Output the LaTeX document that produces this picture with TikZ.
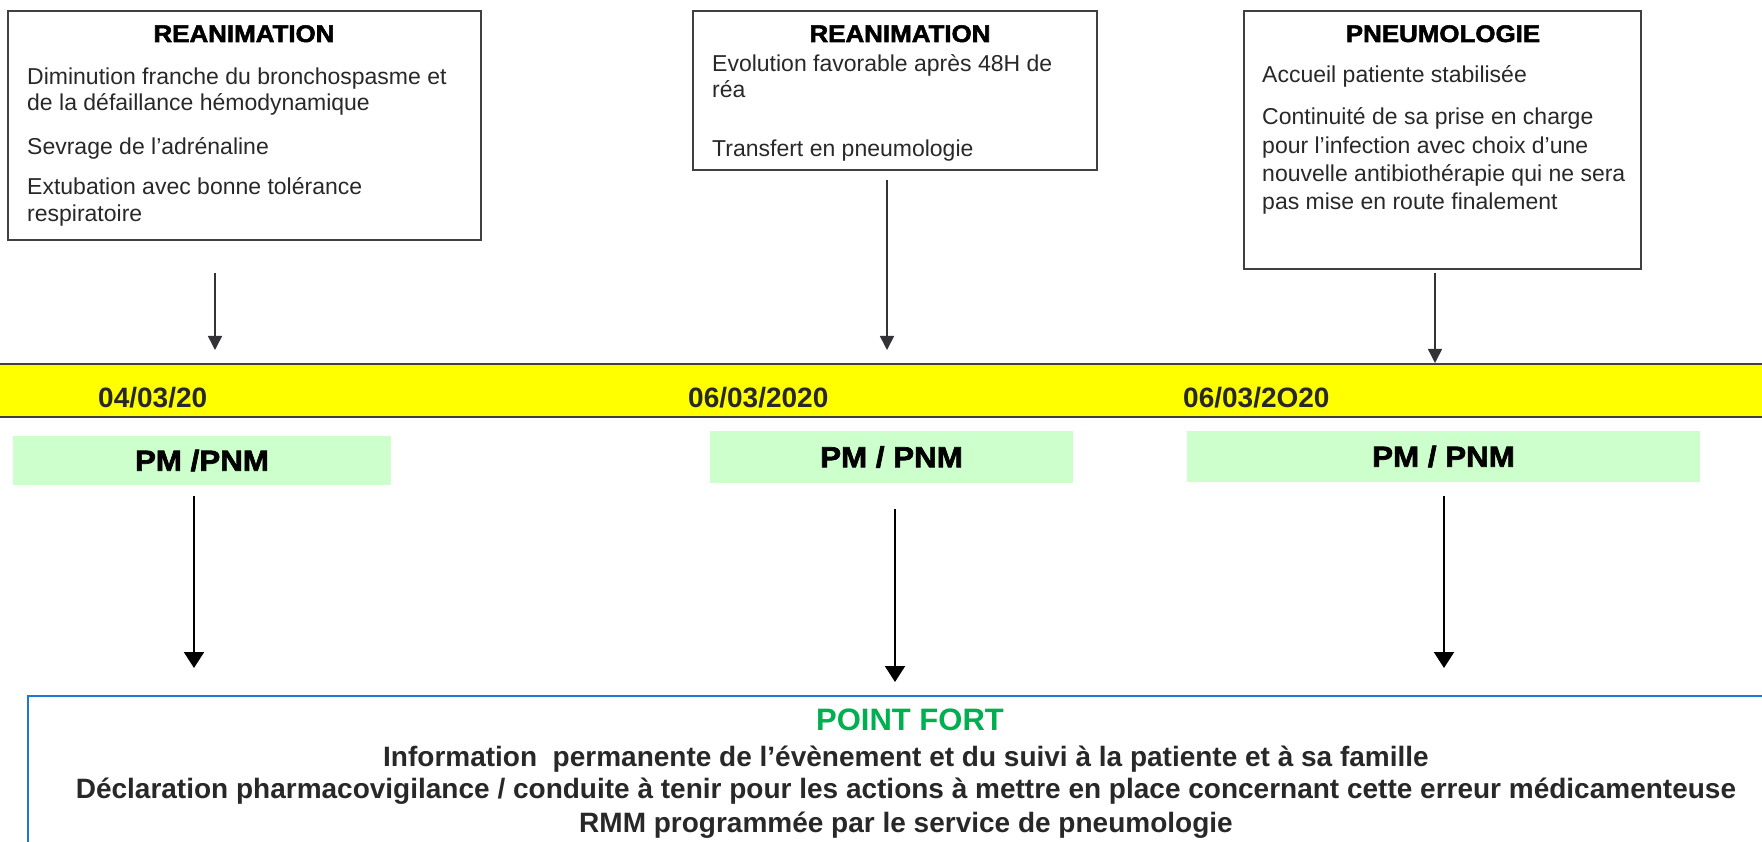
\documentclass[tikz,border=0pt]{standalone}
\usepackage{fontspec}
\setmainfont{Liberation Sans}
\newfontfamily\heavyfont{Liberation Sans}[FakeStretch=1.08, BoldFeatures={FakeBold=2.2}]
\usepackage{tikz}
\usetikzlibrary{arrows.meta, positioning}
\definecolor{tlyellow}{RGB}{255, 255, 0}
\definecolor{pmgreen}{RGB}{204, 255, 204}
\definecolor{fortgreen}{RGB}{0, 176, 80}
\definecolor{fortblue}{RGB}{30, 120, 210}
\definecolor{framegray}{RGB}{64, 64, 64}
\definecolor{linegray}{RGB}{50, 50, 55}
\definecolor{textgray}{RGB}{40, 40, 40}

\begin{document}
\begin{tikzpicture}[x=1pt, y=-1pt,
    eventbox/.style={draw=framegray, line width=1.4pt, inner sep=0pt},
    boxtitle/.style={font=\heavyfont\bfseries\fontsize{24}{28}\selectfont, inner sep=0pt, anchor=base},
    boxline/.style={font=\fontsize{23}{27}\selectfont, text=textgray, inner sep=0pt, anchor=base west},
    datelabel/.style={font=\bfseries\fontsize{28}{32}\selectfont, text=textgray, inner sep=0pt, anchor=base west},
    pmbox/.style={fill=pmgreen, inner sep=0pt, font=\heavyfont\bfseries\fontsize{29}{32}\selectfont},
    fortline/.style={font=\bfseries\fontsize{28}{32}\selectfont, text=textgray, inner sep=0pt, anchor=base},
    toparrow/.style={draw=linegray, line width=1.5pt, -{Triangle[length=14pt, width=14pt]}},
    downarrow/.style={draw=black, line width=2.2pt, -{Triangle[length=16pt, width=20pt]}},
  ]
  \useasboundingbox (0,0) rectangle (1762,842);

  \node[eventbox, minimum width=473, minimum height=229] (rea1) at (244.5,125.5) {};
  \node[boxtitle] (rea1-title) at (244,42) {REANIMATION};
  \foreach \yy/\txt [count=\i] in {85/Diminution franche du bronchospasme et,
      111/de la défaillance hémodynamique, 155/Sevrage de l’adrénaline,
      195/Extubation avec bonne tolérance, 222/respiratoire}
    \node[boxline] (rea1-\i) at (27,\yy) {\txt};

  \node[eventbox, minimum width=404, minimum height=159] (rea2) at (895,90.5) {};
  \node[boxtitle] (rea2-title) at (900,42) {REANIMATION};
  \foreach \yy/\txt [count=\i] in {72/Evolution favorable après 48H de,
      98/réa, 157/Transfert en pneumologie}
    \node[boxline] (rea2-\i) at (712,\yy) {\txt};

  \node[eventbox, minimum width=397, minimum height=258] (pneumo) at (1442.5,140) {};
  \node[boxtitle] (pneumo-title) at (1443,42) {PNEUMOLOGIE};
  \foreach \yy/\txt [count=\i] in {83/Accueil patiente stabilisée,
      125/Continuité de sa prise en charge, 154/pour l’infection avec choix d’une,
      182/nouvelle antibiothérapie qui ne sera, 210/pas mise en route finalement}
    \node[boxline] (pneumo-\i) at (1262,\yy) {\txt};

  \node[fill=tlyellow, minimum width=1762, minimum height=53, inner sep=0pt] (timeline) at (881,390.5) {};
  \draw[draw=framegray, line width=2pt] (timeline.north west) -- (timeline.north east);
  \draw[draw=framegray, line width=2pt] (timeline.south west) -- (timeline.south east);
  \node[datelabel] (date1) at (98,407) {04/03/20};
  \node[datelabel] (date2) at (688,407) {06/03/2020};
  \node[datelabel] (date3) at (1183,407) {06/03/2O20};

  \coordinate (s1) at (215,273);  \coordinate (e1) at (215,350);
  \coordinate (s2) at (887,180);  \coordinate (e2) at (887,350);
  \coordinate (s3) at (1435,273); \coordinate (e3) at (1435,363);
  \foreach \i in {1,2,3}
    \draw[toparrow] (s\i) -- (e\i);

  \node[pmbox, minimum width=378, minimum height=49] (pm1) at (202,460.5) {PM /PNM};
  \node[pmbox, minimum width=363, minimum height=52] (pm2) at (891.5,457) {PM / PNM};
  \node[pmbox, minimum width=513, minimum height=51] (pm3) at (1443.5,456.5) {PM / PNM};

  \coordinate (p1) at (194,496);  \coordinate (q1) at (194,668);
  \coordinate (p2) at (895,509);  \coordinate (q2) at (895,682);
  \coordinate (p3) at (1444,496); \coordinate (q3) at (1444,668);
  \foreach \i in {1,2,3}
    \draw[downarrow] (p\i) -- (q\i);

  \node[draw=fortblue, line width=1.6pt, inner sep=0pt, minimum width=1760, minimum height=170] (fort) at (908,781) {};
  \node[font=\bfseries\fontsize{31}{34}\selectfont, text=fortgreen, inner sep=0pt, anchor=base] (fort-title) at (910,730) {POINT FORT};
  \node[fortline] (fort-1) at (906,766) {Information \ permanente de l’évènement et du suivi à la patiente et à sa famille};
  \node[fortline] (fort-2) at (906,798) {Déclaration pharmacovigilance / conduite à tenir pour les actions à mettre en place concernant cette erreur médicamenteuse};
  \node[fortline] (fort-3) at (906,832) {RMM programmée par le service de pneumologie};
\end{tikzpicture}
\end{document}
